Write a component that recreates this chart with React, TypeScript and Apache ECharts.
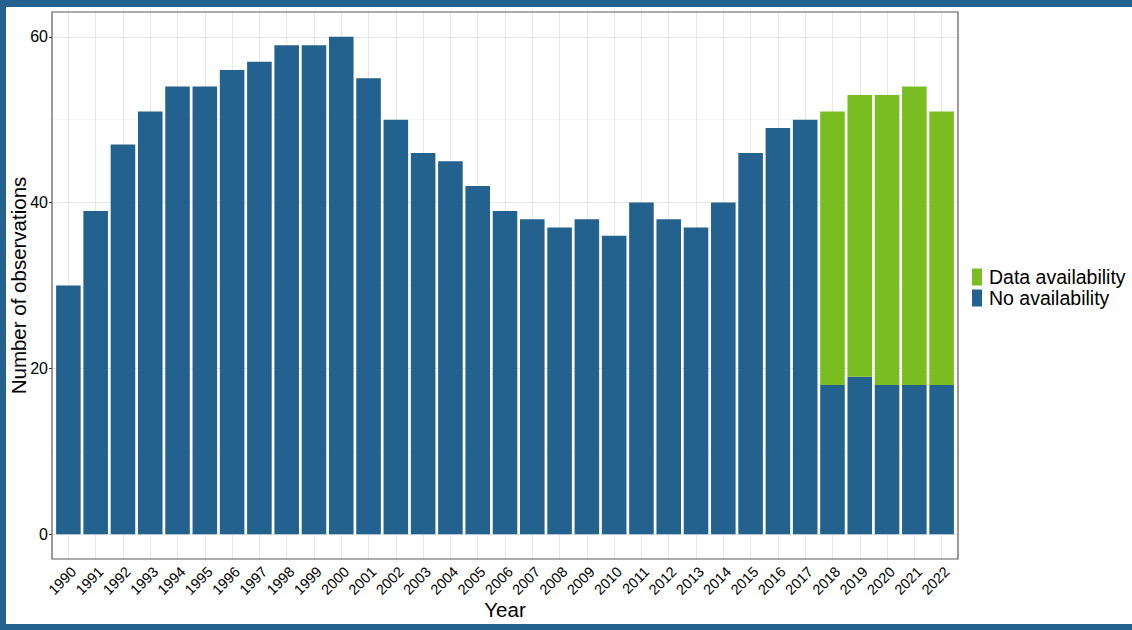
import React, { useEffect, useRef } from "react";
import * as echarts from "echarts";

const years = [
  "1990", "1991", "1992", "1993", "1994", "1995", "1996", "1997", "1998", "1999",
  "2000", "2001", "2002", "2003", "2004", "2005", "2006", "2007", "2008", "2009",
  "2010", "2011", "2012", "2013", "2014", "2015", "2016", "2017", "2018", "2019",
  "2020", "2021", "2022",
];
const noAvailability = [
  30, 39, 47, 51, 54, 54, 56, 57, 59, 59,
  60, 55, 50, 46, 45, 42, 39, 38, 37, 38,
  36, 40, 38, 37, 40, 46, 49, 50, 18, 19,
  18, 18, 18,
];
const dataAvailability = [
  null, null, null, null, null, null, null, null, null, null,
  null, null, null, null, null, null, null, null, null, null,
  null, null, null, null, null, null, null, null, 33, 34,
  35, 36, 33,
];
const yMajorTicks = [0, 20, 40, 60];
const yMinorTicks = [10, 30, 50];

const BLUE = "#23618f";
const GREEN = "#79bd21";
const FONT = "Liberation Sans, Arial, sans-serif";

export default function App() {
  const ref = useRef<HTMLDivElement>(null);
  useEffect(() => {
    if (!ref.current) return;
    const chart = echarts.init(ref.current, null, { renderer: "svg" });
    const panelLeft = 52;
    const panelTop = 12;
    const panelW = 906;
    const panelH = 547;
    const unit = panelW / (years.length + 0.2);
    const innerLeft = panelLeft + unit * 0.1;
    const innerW = unit * years.length;

    chart.setOption({
      animation: false,
      backgroundColor: "#ffffff",
      textStyle: { fontFamily: FONT },
      grid: [
        {
          left: innerLeft, top: panelTop, width: innerW, height: panelH,
          containLabel: false, outerBoundsMode: "none",
        },
        {
          left: panelLeft, top: panelTop, width: panelW, height: panelH,
          containLabel: false, outerBoundsMode: "none",
          show: true, borderColor: "#5a5a5a", borderWidth: 1.2, backgroundColor: "transparent", z: 5,
        },
      ],
      xAxis: [
        {
          type: "category",
          gridIndex: 0,
          data: years,
          boundaryGap: true,
          axisLine: { show: false },
          axisTick: { show: true, alignWithLabel: true, length: 3, lineStyle: { color: "#333333" } },
          axisLabel: {
            rotate: 45, fontSize: 14.5, color: "#000000", margin: 5, interval: 0,
            fontFamily: FONT, align: "right", verticalAlign: "top",
          },
          splitLine: { show: false },
          name: "Year",
          nameLocation: "middle",
          nameGap: 40,
          nameMoveOverlap: false,
          nameTextStyle: { fontSize: 20.5, color: "#000000", fontFamily: FONT },
        },
        { type: "value", gridIndex: 1, min: 0, max: 1, show: false },
      ],
      yAxis: [
        { type: "value", gridIndex: 0, min: -3, max: 63, show: false, splitLine: { show: false } },
        {
          type: "value",
          gridIndex: 1,
          min: -3,
          max: 63,
          axisLine: { show: false },
          splitLine: { show: false },
          axisTick: { show: true, length: 3, customValues: yMajorTicks, lineStyle: { color: "#333333" } },
          axisLabel: { customValues: yMajorTicks, fontSize: 16, color: "#000000", margin: 4, fontFamily: FONT },
          name: "Number of observations",
          nameLocation: "middle",
          nameGap: 23,
          nameMoveOverlap: false,
          nameTextStyle: { fontSize: 20.5, color: "#000000", fontFamily: FONT },
        },
      ],
      legend: {
        orient: "vertical",
        left: 972,
        top: 267,
        padding: 0,
        itemWidth: 10,
        itemHeight: 17,
        itemGap: 1,
        icon: "rect",
        data: ["Data availability", "No availability"],
        textStyle: { fontSize: 19.5, color: "#000000", fontFamily: FONT, padding: [3, 0, 0, 2] },
      },
      series: [
        {
          type: "line",
          name: "hgrid",
          xAxisIndex: 1,
          yAxisIndex: 1,
          data: [],
          z: 1,
          silent: true,
          markLine: {
            silent: true,
            z: 1,
            symbol: "none",
            label: { show: false },
            animation: false,
            data: [
              ...yMajorTicks.map((v) => ({ yAxis: v, lineStyle: { color: "#e6e6e6", width: 1, type: "solid" } })),
              ...yMinorTicks.map((v) => ({ yAxis: v, lineStyle: { color: "#f0f0f0", width: 0.6, type: "solid" } })),
            ],
          },
        },
        {
          type: "line",
          name: "vgrid",
          xAxisIndex: 0,
          yAxisIndex: 0,
          data: [],
          z: 1,
          silent: true,
          markLine: {
            silent: true,
            z: 1,
            symbol: "none",
            label: { show: false },
            animation: false,
            lineStyle: { color: "#e6e6e6", width: 1, type: "solid" },
            data: years.map((y) => ({ xAxis: y })),
          },
        },
        {
          type: "bar",
          name: "No availability",
          xAxisIndex: 0,
          yAxisIndex: 0,
          stack: "obs",
          barWidth: "90%",
          z: 10,
          itemStyle: { color: BLUE },
          data: noAvailability,
        },
        {
          type: "bar",
          name: "Data availability",
          xAxisIndex: 0,
          yAxisIndex: 0,
          stack: "obs",
          barWidth: "90%",
          z: 10,
          itemStyle: { color: GREEN },
          data: dataAvailability,
        },
      ],
      graphic: [
        { type: "rect", shape: { x: 0, y: 0, width: 1132, height: 7 }, style: { fill: BLUE }, z: 100, silent: true },
        { type: "rect", shape: { x: 0, y: 0, width: 6, height: 630 }, style: { fill: BLUE }, z: 100, silent: true },
        { type: "rect", shape: { x: 0, y: 624, width: 1132, height: 6 }, style: { fill: BLUE }, z: 100, silent: true },
      ],
    });
    return () => chart.dispose();
  }, []);
  return (
    <div style={{ position: "fixed", left: 0, top: 0, width: 1132, height: 630, background: "#ffffff" }}>
      <div ref={ref} style={{ width: 1132, height: 630 }} />
    </div>
  );
}
